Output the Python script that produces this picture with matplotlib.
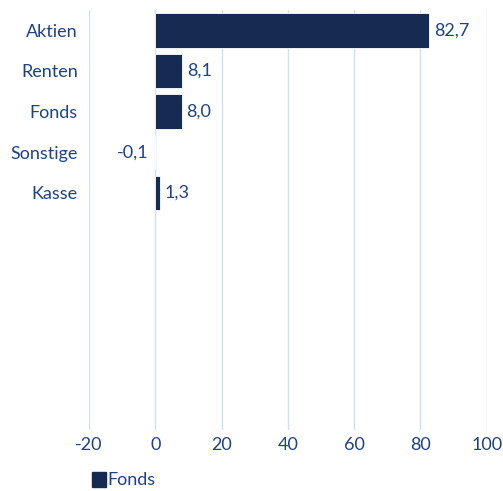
import matplotlib.pyplot as plt
from matplotlib.patches import Patch

# data
categories = ["Aktien", "Renten", "Fonds", "Sonstige", "Kasse"]
values = [82.7, 8.1, 8.0, -0.1, 1.3]
value_labels = ["82,7", "8,1", "8,0", "-0,1", "1,3"]
ticks = [-20, 0, 20, 40, 60, 80, 100]
series_name = "Fonds"

bar_color = "#152b52"
text_color = "#1f4287"
grid_color = "#c9e4ee"
fs = 13

plt.rcParams['font.family'] = ['Lato', 'DejaVu Sans']

W, H = 503, 491
fig = plt.figure(figsize=(W / 100, H / 100), dpi=100)
ax = fig.add_axes([89 / W, 1 - 430 / H, (486.7 - 89) / W, (430 - 10) / H])

ypos = list(range(len(categories)))
ax.barh(ypos, values, height=0.85, color=bar_color, edgecolor="white", linewidth=0.6, zorder=3)

for y, v, lab in zip(ypos, values, value_labels):
    if v >= 0:
        ax.text(v + 1.4, y, lab, va="center", ha="left", color=text_color, fontsize=fs)
    else:
        ax.text(v - 2.0, y, lab, va="center", ha="right", color=text_color, fontsize=fs)

ax.set_xlim(-20, 100)
ax.set_ylim(9.84, -0.5)
ax.set_xticks(ticks)
ax.set_xticklabels([str(t) for t in ticks])
ax.set_yticks(ypos)
ax.set_yticklabels(categories)
ax.tick_params(axis="both", length=0, colors=text_color, labelsize=fs)
ax.tick_params(axis="y", pad=8)
ax.tick_params(axis="x", pad=5)
ax.grid(axis="x", color=grid_color, linewidth=1.0, zorder=0)
for s in ax.spines.values():
    s.set_visible(False)

fig.legend(handles=[Patch(color=bar_color, label=series_name)],
           loc="center left", bbox_to_anchor=(76 / W, 1 - 480 / H),
           frameon=False, handlelength=0.75, handleheight=0.9, handletextpad=0.1,
           fontsize=fs, labelcolor=text_color)

fig.savefig("out.png", dpi=100)
